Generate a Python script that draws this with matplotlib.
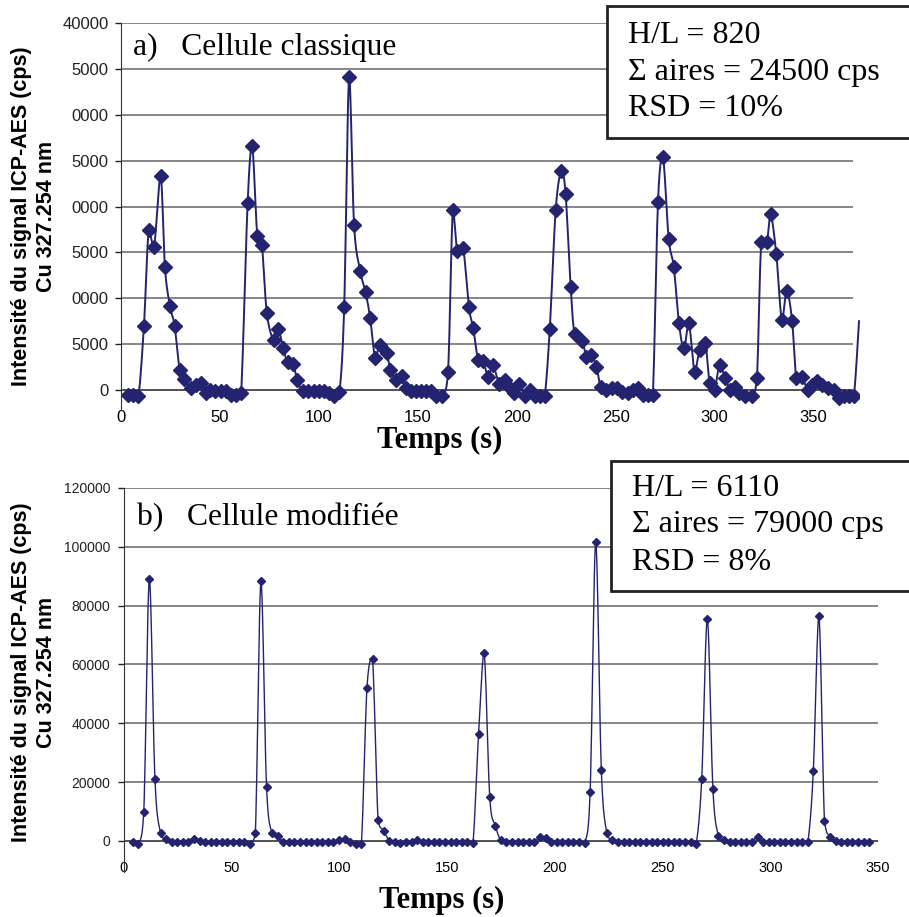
import numpy as np
import matplotlib
matplotlib.use("Agg")
import matplotlib.pyplot as plt
from matplotlib.patches import Rectangle

# ---- data: a) cellule classique (temps en s, intensité en cps)
t_a = [3.4, 6.2, 8.8, 11.6, 14.0, 16.7, 20.0, 22.2, 24.7, 27.1, 29.6, 32.0, 35.4, 37.9,
       40.4, 42.8, 45.0, 47.6, 50.6, 53.1, 55.6, 58.0, 60.7, 64.0, 66.3, 68.9, 71.2, 73.7,
       77.1, 79.5, 82.0, 84.2, 86.9, 89.1, 91.8, 94.7, 97.3, 99.9, 102.5, 105.1, 107.8,
       110.4, 112.8, 115.3, 117.8, 120.9, 123.6, 125.9, 128.5, 130.8, 134.2, 136.2, 139.2,
       141.8, 144.0, 146.4, 149.3, 151.8, 154.3, 156.8, 159.4, 162.4, 165.3, 167.7, 170.0,
       172.9, 175.9, 178.0, 180.5, 183.0, 185.5, 188.0, 191.1, 193.9, 196.1, 198.5, 201.2,
       204.0, 206.6, 209.1, 211.6, 214.1, 216.7, 219.7, 222.6, 224.7, 227.3, 229.3, 233.2,
       235.2, 237.7, 240.3, 242.4, 244.9, 248.3, 250.9, 253.4, 256.2, 258.7, 261.3, 263.8,
       266.3, 268.8, 271.4, 273.9, 276.8, 279.4, 282.0, 284.5, 287.0, 289.9, 292.4, 295.3,
       297.5, 300.0, 302.5, 305.4, 307.9, 310.5, 312.6, 315.5, 318.8, 321.4, 323.6, 326.4,
       328.3, 331.2, 334.0, 336.5, 339.2, 341.3, 344.1, 347.1, 349.3, 351.9, 354.4, 357.2,
       360.6, 363.1, 365.3, 367.8, 370.4, 373.0]
i_a = [-550, -550, -700, 7000, 17400, 15550, 23300, 13400, 9200, 7000, 2200, 1200, 200, 500,
       800, -350, 0, -150, -150, -150, -550, -550, -350, 20350, 26600, 16800, 15800, 8400,
       5450, 6600, 4550, 3000, 2800, 1100, -150, -150, -150, -150, -150, -300, -650,
       -250, 9000, 34150, 18000, 13000, 10650, 7900, 3450, 4900, 4000, 2200, 1100,
       1500, 200, -150, -150, -150, -150, -150, -650, -650, 2000, 19600, 15100,
       15500, 9000, 6800, 3300, 3200, 1450, 2700, 700, 1100, 350, -350, 600,
       -700, 0, -700, -700, -700, 6600, 19600, 23900, 21400, 11200, 6100, 5300,
       3600, 3800, 2550, 350, 0, 200, 250, -200, -350, 0, 250, -550,
       -500, -500, 20500, 25400, 16500, 13400, 7300, 4550, 7300, 2000, 4350, 5150,
       750, 0, 2700, 1300, 0, 350, -350, -650, -650, 1300, 16100, 16100,
       19150, 14800, 7600, 10800, 7500, 1300, 1450, 0, 550, 1000, 550, 250,
       50, -900, -650, -650, -650, 7500]

# ---- data: b) cellule modifiée (acquisition toutes les 2.59 s à partir de 4 s)
t0_b = 4.0
dt_b = 2.59
i_b = [-500, -1000, 9700, 89000, 21000, 2800, 600, -300, -400, -400,
       -300, 600, -100, -300, -400, -400, -400, -400, -400, -400,
       -400, -1000, 2800, 88300, 18500, 2600, 1700, -300, -300, -300,
       -300, -300, -300, -300, -300, -300, -300, 300, 700, -200,
       -900, -900, 52000, 61900, 7000, 3500, 0, -300, -800, -400,
       -200, 300, -200, -300, -300, -300, -300, -300, -300, -300,
       -300, -600, 36300, 64000, 15100, 5200, 200, -200, -200, -200,
       -200, -200, -200, 1400, 1100, -300, -300, -300, -300, -300,
       -300, -800, 16800, 101500, 24100, 2600, 300, -200, -300, -200,
       -300, -200, -300, -300, -200, -300, -300, -500, -400, -500,
       -500, -900, 21200, 75500, 17600, 1700, 200, -200, -200, -300,
       -200, -200, 1400, -300, -300, -300, -300, -300, -300, -300,
       -300, -500, 23900, 76500, 6900, 1500, 100, -300, -300, -400,
       -300, -500, -300]
t_b = t0_b + dt_b * np.arange(len(i_b))

yticks_a = [0, 5000, 10000, 15000, 20000, 25000, 30000, 35000, 40000]
ylabels_a = ["0", "5000", "0000", "5000", "0000", "5000", "0000", "5000", "40000"]
yticks_b = [0, 20000, 40000, 60000, 80000, 100000, 120000]
xticks_a = [0, 50, 100, 150, 200, 250, 300, 350]
xticks_b = [0, 50, 100, 150, 200, 250, 300, 350]

NAVY = "#232370"
SANS = "Liberation Sans"
SERIF = "Liberation Serif"


def smooth(x, y, n=12):
    # ligne lissée (Bezier, tension 1/6) pour le tracé seulement
    x = np.asarray(x, float)
    y = np.asarray(y, float)
    px = np.concatenate([[x[0]], x, [x[-1]]])
    py = np.concatenate([[y[0]], y, [y[-1]]])
    s = np.linspace(0, 1, n, endpoint=False)
    xs, ys = [], []
    for k in range(1, len(px) - 2):
        lo, hi = min(py[k], py[k + 1]), max(py[k], py[k + 1])
        c1x = px[k] + (px[k + 1] - px[k - 1]) / 6
        c1y = np.clip(py[k] + (py[k + 1] - py[k - 1]) / 6, lo, hi)
        c2x = px[k + 1] - (px[k + 2] - px[k]) / 6
        c2y = np.clip(py[k + 1] - (py[k + 2] - py[k]) / 6, lo, hi)
        b0 = (1 - s) ** 3
        b1 = 3 * s * (1 - s) ** 2
        b2 = 3 * s ** 2 * (1 - s)
        b3 = s ** 3
        xs.append(b0 * px[k] + b1 * c1x + b2 * c2x + b3 * px[k + 1])
        ys.append(b0 * py[k] + b1 * c1y + b2 * c2y + b3 * py[k + 1])
    xs.append([x[-1]])
    ys.append([y[-1]])
    return np.concatenate(xs), np.concatenate(ys)


fig = plt.figure(figsize=(9.09, 9.17), dpi=100)

# ---------------- panel a
ax1 = fig.add_axes([0.1331, 0.5529, 0.8119, 0.4220])
ax1.set_xlim(0, 373)
ax1.set_ylim(-2180, 40000)
for v in yticks_a:
    ax1.hlines(v, 0, 370, color="#222222" if v == 0 else "#666666", lw=1.1, zorder=1)
sx, sy = smooth(t_a, i_a)
ax1.plot(sx, sy, color=NAVY, lw=1.4, zorder=3, clip_on=False)
ax1.plot(t_a[:-1], i_a[:-1], ls="none", marker="D", ms=7, color=NAVY, zorder=4)
ax1.set_yticks(yticks_a)
ax1.set_yticklabels(ylabels_a, fontfamily=SANS, fontsize=12)
ax1.set_xticks(xticks_a)
ax1.set_xticklabels([str(v) for v in xticks_a], fontfamily=SANS, fontsize=12)
ax1.tick_params(axis="y", length=4, width=1, pad=5, colors="#222222")
ax1.tick_params(axis="x", length=0, pad=0)
for s in ["top", "right", "bottom"]:
    ax1.spines[s].set_visible(False)
ax1.spines["left"].set_color("#333333")

# ---------------- panel b
ax2 = fig.add_axes([0.1364, 0.0491, 0.8295, 0.4188])
ax2.set_xlim(0, 350)
ax2.set_ylim(-10540, 120000)
for v in yticks_b:
    ax2.hlines(v, 0, 350, color="#222222" if v == 0 else "#666666", lw=1.1, zorder=1)
sx, sy = smooth(t_b, i_b)
ax2.plot(sx, sy, color=NAVY, lw=1.0, zorder=3)
ax2.plot(t_b, i_b, ls="none", marker="D", ms=4, color=NAVY, zorder=4)
ax2.set_yticks(yticks_b)
ax2.set_yticklabels([str(v) for v in yticks_b], fontfamily=SANS, fontsize=10)
ax2.set_xticks(xticks_b)
ax2.set_xticklabels([str(v) for v in xticks_b], fontfamily=SANS, fontsize=10.5)
ax2.tick_params(axis="y", length=4, width=1, pad=6, colors="#222222")
ax2.tick_params(axis="x", length=0, pad=-8)
for s in ["top", "right", "bottom"]:
    ax2.spines[s].set_visible(False)
ax2.spines["left"].set_color("#333333")

# ---------------- textes
ylab1 = "Intensité du signal ICP-AES (cps)"
ylab2 = "Cu 327.254 nm"
for yc in [0.7645, 0.2672]:
    fig.text(0.0242, yc, ylab1, rotation=90, ha="center", va="center",
             fontfamily=SANS, fontweight="bold", fontsize=15.5)
    fig.text(0.0517, yc, ylab2, rotation=90, ha="center", va="center",
             fontfamily=SANS, fontweight="bold", fontsize=15.5)

fig.text(0.484, 0.520, "Temps (s)", ha="center", va="center",
         fontfamily=SERIF, fontweight="bold", fontsize=22)
fig.text(0.4856, 0.0185, "Temps (s)", ha="center", va="center",
         fontfamily=SERIF, fontweight="bold", fontsize=22)

fig.text(0.1463, 0.9487, "a)   Cellule classique", ha="left", va="center",
         fontfamily=SERIF, fontsize=22.8)
fig.text(0.1507, 0.4351, "b)   Cellule modifiée", ha="left", va="center",
         fontfamily=SERIF, fontsize=22.8)

fig.add_artist(Rectangle((0.6678, 0.8498), 0.40, 0.1437, transform=fig.transFigure,
                         facecolor="white", edgecolor="#222222", lw=2, zorder=5))
fig.add_artist(Rectangle((0.6722, 0.3558), 0.40, 0.1415, transform=fig.transFigure,
                         facecolor="white", edgecolor="#222222", lw=2, zorder=5))

box_a = ["H/L = 820", "Σ aires = 24500 cps", "RSD = 10%"]
box_b = ["H/L = 6110", "Σ aires = 79000 cps", "RSD = 8%"]
for txt, yy in zip(box_a, [0.9618, 0.9204, 0.8822]):
    fig.text(0.6909, yy, txt, ha="left", va="center", fontfamily=SERIF,
             fontsize=23, zorder=6)
for txt, yy in zip(box_b, [0.4678, 0.4275, 0.3871]):
    fig.text(0.6953, yy, txt, ha="left", va="center", fontfamily=SERIF,
             fontsize=23, zorder=6)

fig.savefig("out.png", dpi=100)
